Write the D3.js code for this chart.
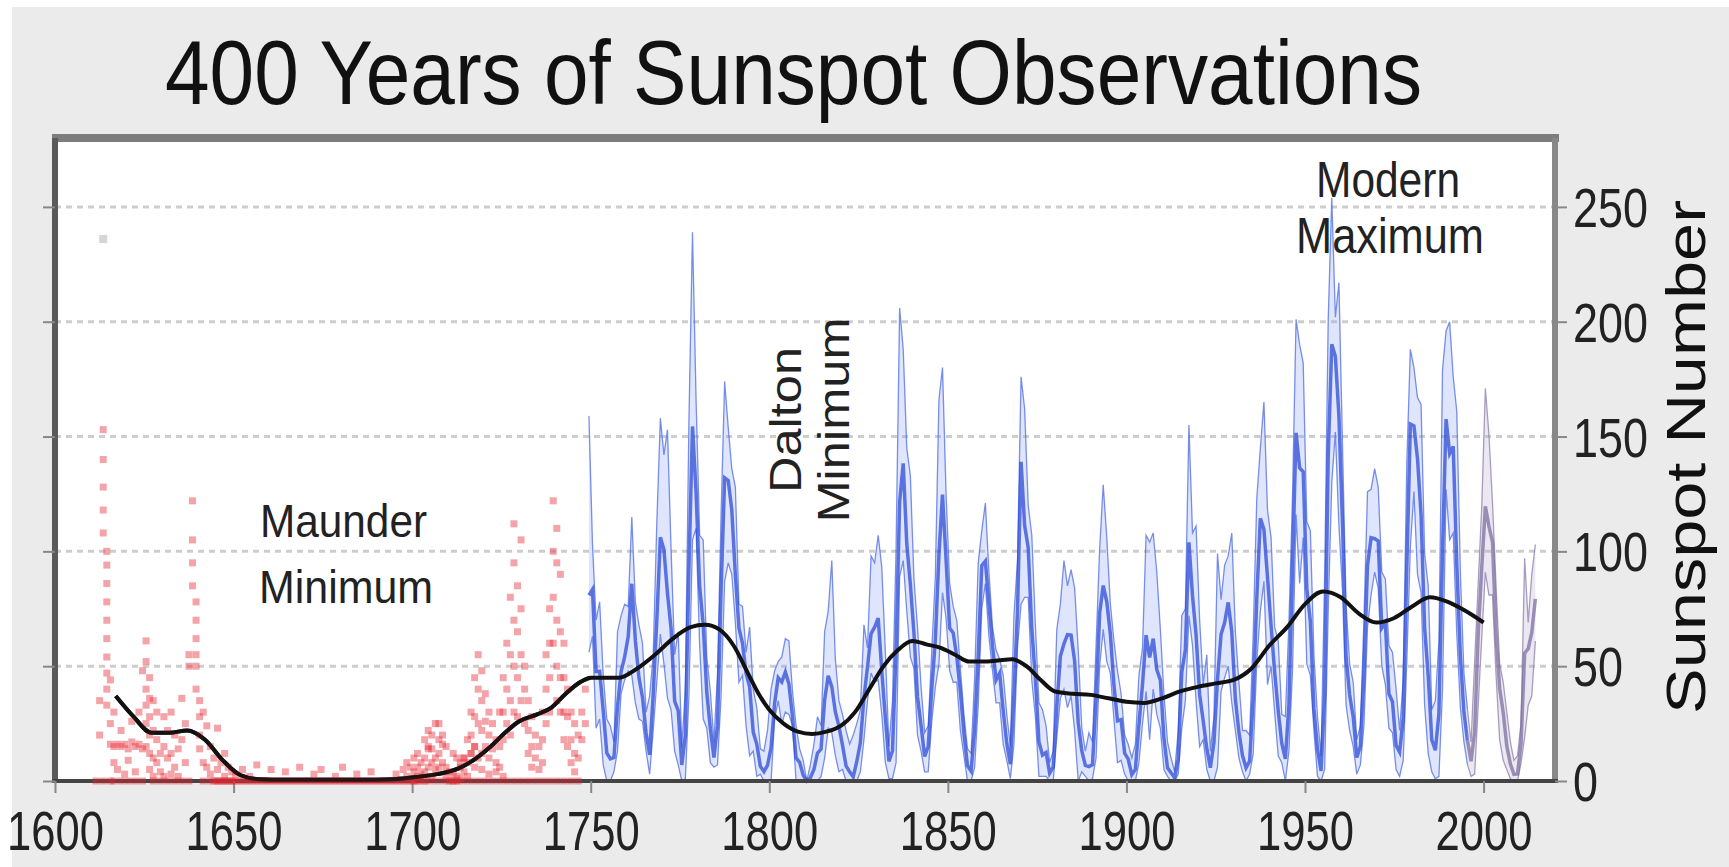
<!DOCTYPE html>
<html><head><meta charset="utf-8">
<script src="https://cdn.jsdelivr.net/npm/d3@7"></script>
<style>html,body{margin:0;padding:0;background:#fff;overflow:hidden}</style>
</head><body><svg id="c" width="1729" height="867"></svg>
<script>
// ---------------- DATA ----------------
const titleText = "400 Years of Sunspot Observations";
const yLabelText = "Sunspot Number";
const xTickValues = [1600, 1650, 1700, 1750, 1800, 1850, 1900, 1950, 2000];
const yTickValues = [0, 50, 100, 150, 200, 250];

// Monthly sunspot numbers summarised per year (highest / lowest month, annual mean), 1749-1995 (blue)
const blueStart = 1749;
const blueHigh = [159,
 103,70,78,46,27,24,17,65,72,77,
 76,115,78,68,60,30,37,55,112,158,
 142,153,101,55,65,15,40,157,239,166,
 107,105,54,39,17,47,116,174,154,136,
 128,77,76,56,67,40,32,14,13,22,
 40,48,52,54,62,61,39,24,14,9,
 0,7,16,28,24,65,74,96,53,35,
 29,22,16,20,25,31,68,58,98,95,
 107,93,56,15,35,101,206,188,145,133,
 88,67,41,21,24,57,89,166,180,125,
 86,76,70,49,29,14,12,45,95,109,
 121,91,67,57,53,46,29,15,72,96,
 176,162,120,107,68,34,31,24,8,13,
 66,77,96,85,92,84,57,23,13,21,
 17,59,101,129,106,77,61,48,38,20,
 16,10,16,46,58,107,104,108,91,66,
 38,17,10,4,22,72,75,155,108,111,
 70,42,55,13,28,99,79,94,98,108,
 65,43,22,22,20,64,123,145,165,118,
 106,67,61,29,28,69,124,201,190,182,
 113,109,55,28,11,89,201,254,202,217,
 146,77,51,43,18,24,70,126,127,136,
 128,91,88,59,56,40,22,44,138,188,
 180,167,164,99,85,31,35,61,179,196,
 200,176,161,91,47,31];
const blueLow = [56,
 63,23,27,7,0,0,4,13,38,44,
 48,46,34,27,26,13,3,22,43,64,
 51,36,31,13,7,0,1,37,105,110,
 59,27,23,8,6,7,37,87,95,90,
 69,43,46,24,11,13,2,3,0,0,
 0,27,35,25,30,29,24,0,0,0,
 0,0,0,0,2,10,23,21,11,4,
 5,0,0,0,0,4,18,35,47,43,
 44,29,8,1,1,8,89,96,74,54,
 49,20,13,4,4,26,41,51,82,71,
 48,43,43,22,11,0,0,6,33,75,
 86,63,48,34,34,16,9,1,16,58,
 77,80,80,44,28,2,2,2,0,0,
 19,36,40,32,37,22,0,4,2,0,
 1,10,50,66,52,47,27,8,9,3,
 0,0,0,8,25,39,18,40,29,23,
 5,2,0,0,3,23,35,72,59,35,
 15,18,5,0,0,6,39,45,50,34,
 22,10,4,0,3,12,52,74,87,42,
 50,30,11,8,0,13,48,116,86,106,
 51,46,22,2,0,5,74,130,152,111,
 83,33,22,15,3,7,24,67,81,91,
 84,50,42,23,21,5,2,9,52,102,
 126,90,82,33,12,4,1,2,40,127,
 105,108,64,32,17,7];
const blueMean = [80.9,
 83.4,47.7,47.8,30.7,12.2,9.6,10.2,32.4,47.6,54.0,
 62.9,85.9,61.2,45.1,36.4,20.9,11.4,37.8,69.8,106.1,
 100.8,81.6,66.5,34.8,30.6,7.0,19.8,92.5,154.4,125.9,
 84.8,68.1,38.5,22.8,10.2,24.1,82.9,132.0,130.9,118.1,
 89.9,66.6,60.0,46.9,41.0,21.3,16.0,6.4,4.1,6.8,
 14.5,34.0,45.0,43.1,47.5,42.2,28.1,10.1,8.1,2.5,
 0.0,1.4,5.0,12.2,13.9,35.4,45.8,41.1,30.1,23.9,
 15.6,6.6,4.0,1.8,8.5,16.6,36.3,49.6,64.2,67.0,
 70.9,47.8,27.5,8.5,13.2,56.9,121.5,138.3,103.2,85.7,
 64.6,36.7,24.2,10.7,15.0,40.1,61.5,98.5,124.7,96.3,
 66.6,64.5,54.1,39.0,20.6,6.7,4.3,22.7,54.8,93.8,
 95.8,77.2,59.1,44.0,47.0,30.5,16.3,7.3,37.6,74.0,
 139.0,111.2,101.6,66.2,44.7,17.0,11.3,12.4,3.4,6.0,
 32.3,54.3,59.7,63.7,63.5,52.2,25.4,13.1,6.8,6.3,
 7.1,35.6,73.0,85.1,78.0,64.0,41.8,26.2,26.7,12.1,
 9.5,2.7,5.0,24.4,42.0,63.5,53.8,62.0,48.5,43.9,
 18.6,5.7,3.6,1.4,9.6,47.4,57.1,103.9,80.6,63.6,
 37.6,26.1,14.2,5.8,16.7,44.3,63.9,69.0,77.8,64.9,
 35.7,21.2,11.1,5.7,8.7,36.1,79.7,114.4,109.6,88.8,
 67.8,47.5,30.6,16.3,9.6,33.2,92.6,151.6,136.3,134.7,
 83.9,69.4,31.5,13.9,4.4,38.0,141.7,190.2,184.8,159.0,
 112.3,53.9,37.6,27.9,10.2,15.1,47.0,93.8,105.9,105.5,
 104.5,66.6,68.9,38.0,34.5,15.5,12.6,27.5,92.5,155.4,
 154.6,140.4,115.9,66.6,45.9,17.9,13.4,29.4,100.2,157.6,
 142.6,145.7,94.3,54.6,29.9,17.5];

// Recent observations 1995-2014 (grey-violet)
const tailStart = 1995;
const tailHigh = [31,17,52,86,120,171,151,121,85,51,43,30,17,9,11,25,97,69,90,103];
const tailLow  = [7,2,3,33,63,91,81,81,46,18,9,5,1,0,0,8,19,33,37,61];
const tailMean = [17.5,8.6,21.5,64.3,93.3,119.6,111.0,104.0,63.7,40.4,29.8,15.2,7.5,2.9,3.1,16.5,55.7,57.6,64.7,79.3];

// Early telescope observations (red points)
const redYears = [
 1612,1612,1613,1613,1613,1613,1613,1614,1614,1614,1614,1614,1614,1614,1614,1614,1614,
 1615,1615,1615,1616,1616,1616,1617,1617,1618,1618,1619,1619,1620,1620,1621,1621,1622,1622,1623,1623,1624,1624,
 1625,1625,1625,1625,1625,1625,1626,1626,1626,1626,1626,1626,1627,1627,1627,1627,1628,1628,1628,1629,1629,
 1630,1630,1630,1631,1631,1632,1632,1632,1633,1633,1634,1634,1635,1635,1636,1636,1637,1637,
 1638,1638,1638,1638,1639,1639,1639,1639,1639,1639,1640,1640,1640,1640,1641,1641,1642,1642,1643,1643,1644,1644,
 1645,1645,1645,1646,1646,1647,1647,1647,1648,1648,1649,1649,1650,1650,1652,1652,1654,1654,1656,1656,1658,
 1660,1660,1662,1664,1664,1666,1668,1668,1670,1672,1672,1674,1674,1676,1678,1678,1680,1680,1682,1684,1684,1686,
 1688,1688,1690,1692,1694,1695,1695,1697,1697,1698,1698,1699,1699,
 1700,1700,1700,1701,1701,1701,1702,1702,1703,1703,1703,1704,1704,1704,1705,1705,1705,1706,1706,1707,1707,1707,
 1708,1708,1709,1709,1710,1710,1711,1711,1712,1712,1713,1713,1714,1714,1715,1715,1715,
 1716,1716,1716,1717,1717,1717,1717,1718,1718,1718,1718,1719,1719,1719,1719,1720,1720,1720,1721,1721,1721,
 1722,1722,1723,1723,1724,1724,1724,1725,1725,1725,1726,1726,1726,1727,1727,1727,1727,
 1728,1728,1728,1728,1728,1729,1729,1729,1729,1730,1730,1730,1730,1731,1731,1731,1732,1732,1732,
 1733,1733,1733,1734,1734,1735,1735,1736,1736,1736,1737,1737,1737,1738,1738,1738,1738,
 1739,1739,1739,1739,1740,1740,1740,1740,1740,1741,1741,1741,1741,1742,1742,1742,1742,
 1743,1743,1743,1744,1744,1744,1745,1745,1745,1746,1746,1747,1747,1748,1748,
 1611,1613,1615,1616,1618,1620,1622,1624,1627,1629,1631,1633,1635,1637,1641,1643,1645,1647,1649,1651,1653,1655,
 1657,1659,1661,1663,1665,1667,1669,1671,1673,1675,1677,1679,1681,1683,1685,1687,1689,1691,1693,1696,1698,
 1700,1702,1704,1706,1708,1710,1712,1714,1716,1718,1720,1722,1724,1726,1728,1730,1732,1734,1736,1738,1740,1742,1744,1746,
 1701,1703,1704,1705,1706,1707,1708,1709,1711,1712,1713,1714,1716,1717,1719,1721,1723,1725];
const redValues = [
 20,35,153,140,128,118,108,100,94,86,78,70,62,54,47,40,33,
 25,16,44,15,30,8,16,5,15,22,16,3,14,9,17,26,15,4,16,30,14,48,
 61,52,40,33,25,15,45,36,28,20,12,5,35,22,10,2,30,18,8,12,4,
 28,15,2,22,10,30,12,3,20,6,14,2,36,18,25,8,50,55,
 122,105,95,85,78,70,62,55,50,40,35,28,20,14,30,8,24,6,15,3,10,0,
 23,5,0,8,0,12,2,0,6,0,4,0,3,0,5,0,2,0,7,0,0,
 5,0,0,4,0,0,0,6,0,3,0,0,5,0,2,0,0,6,0,3,0,0,
 0,4,0,0,0,3,0,5,0,8,2,6,0,
 4,10,0,12,6,2,8,3,18,10,4,22,14,6,14,8,2,10,5,25,12,6,
 16,8,6,2,4,0,3,0,2,0,6,1,10,4,18,8,2,
 30,20,12,45,28,15,6,55,40,25,10,48,35,22,12,38,26,15,30,20,10,
 25,14,18,8,30,15,6,45,30,18,60,40,25,80,55,35,20,
 112,95,70,50,30,85,65,45,28,105,75,55,35,50,40,25,35,22,12,
 28,15,6,20,10,15,5,30,18,8,55,40,25,75,60,45,30,
 122,100,80,60,110,95,70,50,35,90,65,45,30,60,45,30,18,
 40,28,15,30,18,8,25,12,4,20,10,30,18,40,25,
 0,0,0,0,0,0,0,0,0,0,0,0,0,0,0,0,0,0,0,0,0,0,
 0,0,0,0,0,0,0,0,0,0,0,0,0,0,0,0,0,0,0,0,0,0,0,
 0,0,0,0,0,0,0,0,0,0,0,0,0,0,0,0,0,0,0,0,0,0,0,0,
 15,20,25,18,20,15,12,10,8,10,12,15,5,3,4,2,3,5];
const faintYears = [1613];
const faintValues = [236];

// 11-year smoothed average (black)
const smoothYears = [1617,1622,1627,1632,1637,1642,1647,1652,1657,1665,1675,1685,1695,1702,1707,1713,1718,1722,1726,1730,
 1735,1739,1743,1747,1750,1755,1758,1763,1768,1773,1778,1782,1786,1790,1794,1797,1800,1804,1808,1812,
 1816,1820,1824,1828,1832,1836,1840,1844,1848,1852,1856,1860,1864,1868,1872,1876,1880,1885,1890,1895,
 1900,1905,1910,1915,1920,1925,1930,1935,1940,1945,1950,1955,1960,1965,1970,1975,1980,1985,1990,1995,2000];
const smoothValues = [37,28,21,21,22,18,9,2.5,0.8,0.5,0.5,0.5,0.8,1.9,3,5.5,10,15,21,26,
 29,32,38,43,45,45,45,49,55,62,67,68,66,59,47,38,31,25,21.5,20.5,
 21.5,24,30,40,50,57,61,59.5,58,55,52,52,52.5,53,50,44,39,38,37.5,36,
 34.5,34,36,39,41,42.5,44,49,59,67,77,82.5,80,73,69,71,76,80,78,74,69];

// Annotations
const annoMaunder = ["Maunder", "Minimum"];
const annoDalton = ["Dalton", "Minimum"];
const annoModern = ["Modern", "Maximum"];

// ---------------- DRAWING ----------------
const svg = d3.select("#c");
const FONT = "'Liberation Sans', Arial, Helvetica, sans-serif";
const L = 55, R = 1555, T = 138, B = 781;
const x = d3.scaleLinear().domain([1600, 2020]).range([L, R]);
const y = d3.scaleLinear().domain([0, 280]).range([B, T]);

// backgrounds
svg.append("rect").attr("x", 12).attr("y", 7).attr("width", 1729).attr("height", 867).attr("fill", "#ebebeb");
svg.append("rect").attr("x", L).attr("y", T).attr("width", R - L).attr("height", B - T).attr("fill", "#ffffff");

// clips
svg.append("clipPath").attr("id", "plotclip").append("rect")
  .attr("x", L).attr("y", T).attr("width", R - L).attr("height", B - T + 4);
svg.append("clipPath").attr("id", "redclip").append("rect")
  .attr("x", L + 3).attr("y", T).attr("width", R - L).attr("height", B - T + 9);

// grid
svg.append("g").selectAll("line").data(yTickValues.filter(d => d > 0)).join("line")
  .attr("x1", L).attr("x2", R).attr("y1", d => y(d)).attr("y2", d => y(d))
  .attr("stroke", "#cdcdcd").attr("stroke-width", 3).attr("stroke-dasharray", "6,5");

const plot = svg.append("g").attr("clip-path", "url(#plotclip)");

// blue band
function series(start, hi, lo, mean) {
  return hi.map((h, i) => ({ year: start + i, hi: h, lo: lo[i], mean: mean[i] }));
}
const blueData = series(blueStart, blueHigh, blueLow, blueMean);
const tailData = series(tailStart, tailHigh, tailLow, tailMean);

const band = d3.area().x(d => x(d.year + 0.5)).y0(d => y(d.lo)).y1(d => y(d.hi));
const hiLine = d3.line().x(d => x(d.year + 0.5)).y(d => y(d.hi));
const loLine = d3.line().x(d => x(d.year + 0.5)).y(d => y(d.lo));
const meanLine = d3.line().x(d => x(d.year + 0.5)).y(d => y(d.mean));

function drawBand(data, fill, edge, core) {
  plot.append("path").datum(data).attr("d", band).attr("fill", fill).attr("fill-opacity", 0.28);
  plot.append("path").datum(data).attr("d", hiLine).attr("fill", "none").attr("stroke", edge).attr("stroke-width", 1.3).attr("stroke-opacity", 0.75);
  plot.append("path").datum(data).attr("d", loLine).attr("fill", "none").attr("stroke", edge).attr("stroke-width", 1.3).attr("stroke-opacity", 0.75);
  plot.append("path").datum(data).attr("d", meanLine).attr("fill", "none").attr("stroke", core).attr("stroke-width", 3.5).attr("stroke-opacity", 0.7);
}
drawBand(blueData, "#8aa2f5", "#4d6be2", "#2242d4");
drawBand(tailData, "#b9aed0", "#8c7eab", "#75669a");

// smoothed line
const smoothData = smoothYears.map((yr, i) => ({ year: yr, v: smoothValues[i] }));
plot.append("path").datum(smoothData)
  .attr("d", d3.line().x(d => x(d.year)).y(d => y(d.v)).curve(d3.curveMonotoneX))
  .attr("fill", "none").attr("stroke", "#111").attr("stroke-width", 4);

// frame
svg.append("line").attr("x1", L - 3).attr("x2", R + 4).attr("y1", T).attr("y2", T).attr("stroke", "#7d7d7d").attr("stroke-width", 8);
svg.append("line").attr("x1", L).attr("x2", L).attr("y1", T).attr("y2", B).attr("stroke", "#5a5a5a").attr("stroke-width", 6);
svg.append("line").attr("x1", R).attr("x2", R).attr("y1", T).attr("y2", B).attr("stroke", "#888").attr("stroke-width", 6);

// axes
const xAxis = svg.append("g").attr("transform", `translate(0,${B})`)
  .call(d3.axisBottom(x).tickValues(xTickValues).tickFormat(d3.format("d")).tickSize(12).tickSizeOuter(0));
xAxis.select(".domain").attr("stroke", "#444").attr("stroke-width", 4).attr("d", `M${L - 3},0H${R + 3}`);
xAxis.selectAll(".tick line").attr("stroke", "#888").attr("stroke-width", 2);
xAxis.selectAll(".tick text").attr("y", 69).attr("dy", 0)
  .attr("font-family", FONT).attr("font-size", 56).attr("fill", "#222")
  .attr("textLength", 97).attr("lengthAdjust", "spacingAndGlyphs");

const yAxisR = svg.append("g").attr("transform", `translate(${R},0)`)
  .call(d3.axisRight(y).tickValues(yTickValues).tickSize(12).tickSizeOuter(0));
yAxisR.select(".domain").remove();
yAxisR.selectAll(".tick line").attr("stroke", "#888").attr("stroke-width", 2);
yAxisR.selectAll(".tick text").attr("x", 18).attr("dy", "0.35em")
  .attr("font-family", FONT).attr("font-size", 56).attr("fill", "#222")
  .attr("textLength", d => String(d).length * 25).attr("lengthAdjust", "spacingAndGlyphs");

const yAxisL = svg.append("g").attr("transform", `translate(${L},0)`)
  .call(d3.axisLeft(y).tickValues(yTickValues).tickSize(12).tickFormat(""));
yAxisL.select(".domain").remove();
yAxisL.selectAll(".tick line").attr("stroke", "#888").attr("stroke-width", 2);

// red points drawn over the axis line (as in the original, which tints the baseline red)
const redG = svg.append("g").attr("clip-path", "url(#redclip)");
const redData = redYears.map((yr, i) => ({ year: yr, v: redValues[i] }));
redG.selectAll("rect").data(redData).join("rect")
  .attr("x", d => x(d.year + 0.5) - 3.5).attr("y", d => y(d.v) - 3.5)
  .attr("width", 7).attr("height", 7)
  .attr("fill", "#e4262f").attr("fill-opacity", 0.42);
const faintData = faintYears.map((yr, i) => ({ year: yr, v: faintValues[i] }));
redG.selectAll("rect.faint").data(faintData).join("rect").attr("class", "faint")
  .attr("x", d => x(d.year + 0.5) - 4).attr("y", d => y(d.v) - 4)
  .attr("width", 8).attr("height", 8).attr("fill", "#c8c0c8").attr("fill-opacity", 0.7);
// redraw the smoothed line on top of the red baseline points
svg.append("path").datum(smoothData.filter(d => d.year <= 1750)).attr("clip-path", "url(#plotclip)")
  .attr("d", d3.line().x(d => x(d.year)).y(d => y(d.v)).curve(d3.curveMonotoneX))
  .attr("fill", "none").attr("stroke", "#111").attr("stroke-width", 4).attr("stroke-opacity", 0.85);

// title
svg.append("text").attr("x", 165).attr("y", 104)
  .attr("font-family", FONT).attr("font-size", 90).attr("fill", "#111")
  .attr("textLength", 1257).attr("lengthAdjust", "spacingAndGlyphs").text(titleText);

// y label
svg.append("text").attr("transform", "translate(1705,457) rotate(-90)")
  .attr("text-anchor", "middle").attr("font-family", FONT).attr("font-size", 56).attr("fill", "#111")
  .attr("textLength", 514).attr("lengthAdjust", "spacingAndGlyphs").text(yLabelText);

// annotations
const annoG = svg.append("g").attr("font-family", FONT).attr("fill", "#222");
annoG.append("text").attr("x", 260).attr("y", 537).attr("font-size", 47)
  .attr("textLength", 167).attr("lengthAdjust", "spacingAndGlyphs").text(annoMaunder[0]);
annoG.append("text").attr("x", 259).attr("y", 603).attr("font-size", 47)
  .attr("textLength", 174).attr("lengthAdjust", "spacingAndGlyphs").text(annoMaunder[1]);
annoG.append("text").attr("transform", "translate(801,420) rotate(-90)").attr("text-anchor", "middle").attr("font-size", 44)
  .attr("textLength", 146).attr("lengthAdjust", "spacingAndGlyphs").text(annoDalton[0]);
annoG.append("text").attr("transform", "translate(849,420) rotate(-90)").attr("text-anchor", "middle").attr("font-size", 44)
  .attr("textLength", 205).attr("lengthAdjust", "spacingAndGlyphs").text(annoDalton[1]);
annoG.append("text").attr("x", 1388).attr("y", 197).attr("text-anchor", "middle").attr("font-size", 50)
  .attr("textLength", 144).attr("lengthAdjust", "spacingAndGlyphs").text(annoModern[0]);
annoG.append("text").attr("x", 1390).attr("y", 253).attr("text-anchor", "middle").attr("font-size", 50)
  .attr("textLength", 188).attr("lengthAdjust", "spacingAndGlyphs").text(annoModern[1]);
</script>
</body></html>
